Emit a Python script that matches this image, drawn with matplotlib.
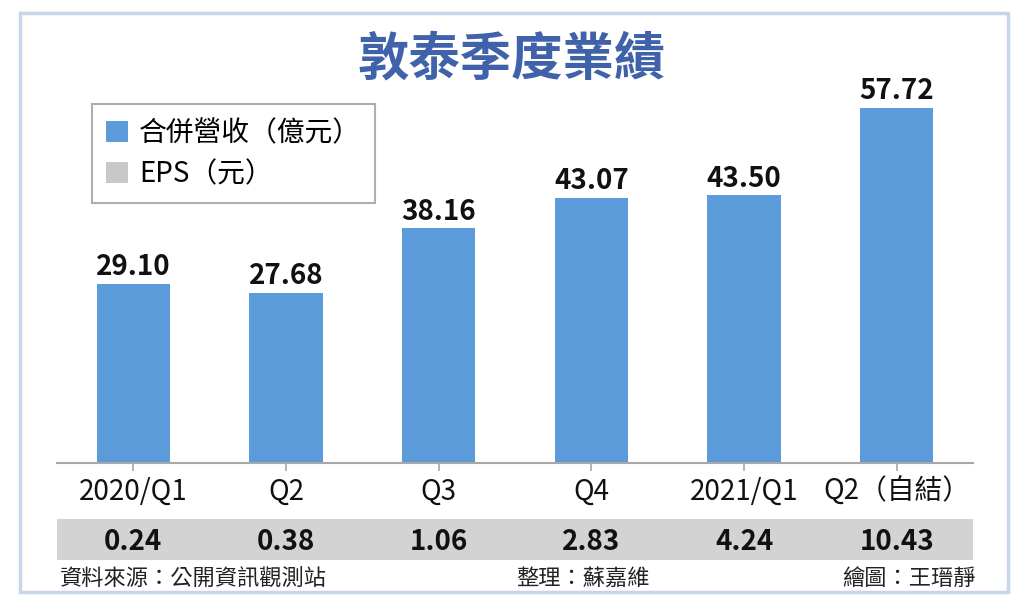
import matplotlib
matplotlib.use("Agg")
import matplotlib.pyplot as plt
from matplotlib.patches import Rectangle, Patch

plt.rcParams['font.family'] = ['Noto Sans CJK TC', 'DejaVu Sans']

# data
quarters = ["2020/Q1", "Q2", "Q3", "Q4", "2021/Q1", "Q2（自結）"]
revenue = [29.10, 27.68, 38.16, 43.07, 43.50, 57.72]   # 合併營收(億元)
eps = [0.24, 0.38, 1.06, 2.83, 4.24, 10.43]            # EPS(元)

title = "敦泰季度業績"
source = "資料來源：公開資訊觀測站"
editor = "整理：蘇嘉維"
artist = "繪圖：王瑨靜"

W, H = 1024, 599
bar_color = "#5b9bd9"
band_color = "#d3d3d3"

fig = plt.figure(figsize=(W / 100, H / 100), dpi=100)
fig.patch.set_facecolor("white")

def fx(px):
    return px / W

def fy(py):
    return 1 - py / H

# outer frame
fig.patches.append(Rectangle((fx(20), fy(592)), fx(988), 579 / H, transform=fig.transFigure,
                             fill=False, edgecolor="#c6d6e8", linewidth=2.5))

fig.text(0.5, fy(59), title, ha="center", va="center", fontsize=37,
         fontweight="bold", color="#3f62aa")

# main bar axes
ax = fig.add_axes([fx(57), fy(463), fx(916), 363 / H])
x = range(len(quarters))
bars = ax.bar(x, revenue, width=0.48, color=bar_color, label="合併營收（億元）", zorder=2)
ax.set_xlim(-0.5, len(quarters) - 0.5)
ax.set_ylim(0, 363 / 6.15)
for b, v in zip(bars, revenue):
    ax.annotate(f"{v:.2f}", (b.get_x() + b.get_width() / 2, v), xytext=(0, 2),
                textcoords="offset points", ha="center", va="bottom",
                fontsize=20, fontweight="bold", color="#111111")

for s in ["top", "right", "left"]:
    ax.spines[s].set_visible(False)
ax.spines["bottom"].set_color("#a8a8a8")
ax.spines["bottom"].set_linewidth(1.5)
ax.set_yticks([])
ax.set_xticks(list(x))
ax.set_xticklabels(quarters, fontsize=20, color="#111111")
ax.tick_params(axis="x", length=6, width=1.2, color="#a8a8a8", pad=4)
ax.patch.set_alpha(0)

# EPS row
ax2 = fig.add_axes([fx(57), fy(560), fx(916), 41 / H])
ax2.set_facecolor(band_color)
ax2.set_xlim(ax.get_xlim())
ax2.set_ylim(0, 1)
for s in ax2.spines.values():
    s.set_visible(False)
ax2.set_xticks([])
ax2.set_yticks([])
for i, v in enumerate(eps):
    ax2.text(i, 0.45, f"{v:.2f}", ha="center", va="center", fontsize=20,
             fontweight="bold", color="#111111")

# legend
handles = [Patch(facecolor=bar_color, label="合併營收（億元）"),
           Patch(facecolor="#c8c8c8", label="EPS（元）")]
leg = fig.legend(handles=handles, loc="upper left", bbox_to_anchor=(fx(92), fy(104)),
                 fontsize=20, frameon=True, fancybox=False, edgecolor="#9a9a9a",
                 handlelength=0.8, handleheight=0.8, handletextpad=0.4,
                 borderpad=0.5, labelspacing=0.4, borderaxespad=0)
leg.get_frame().set_linewidth(1.5)

# footer
fig.text(fx(60), fy(578), source, ha="left", va="center", fontsize=16, color="#222222")
fig.text(fx(516), fy(578), editor, ha="left", va="center", fontsize=16, color="#222222")
fig.text(fx(976), fy(578), artist, ha="right", va="center", fontsize=16, color="#222222")

fig.savefig("out.png", dpi=100)
